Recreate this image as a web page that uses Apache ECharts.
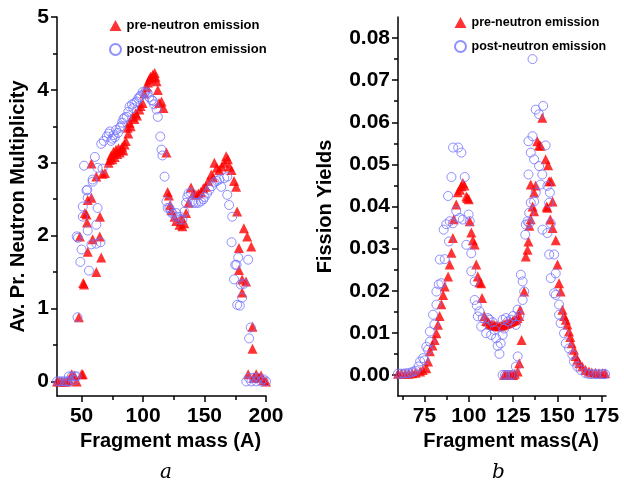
<!DOCTYPE html>
<html>
<head>
<meta charset="utf-8">
<script src="https://cdn.jsdelivr.net/npm/echarts@6/dist/echarts.min.js"></script>
<style>
  html, body { margin: 0; padding: 0; background: #fff; }
  #chart { width: 624px; height: 489px; }
</style>
</head>
<body>
<div id="chart"></div>
<script>
// panel a: average prompt neutron multiplicity vs fragment mass
const multPre = [
  [30,0],[32,0],[34,0],[36,0],[38,0],[40,0.02],[42,0.1],[44,0.08],[46,0],[47.8,0.88],[48.6,1.99],[50,0.1],[51,0.1],
  [51.3,1.35],[52,1.33],[52.7,2.31],[54,2.29],[54.4,2.18],[55,1.78],[55,2.49],[58,2.52],[58,2.99],[59,1.95],[62,1.5],
  [62,2.81],[64.8,1.99],[65,2.26],[66,1.7],[67,2.85],[69,2.86],[72,3.0],[73,3.04],[74,3.1],[75,3.05],[76,3.15],[77,3.08],
  [78,3.18],[79,3.12],[80,3.2],[81,3.14],[82,3.18],[83,3.22],[84,3.17],[85,3.25],[86,3.3],[87.5,3.48],[88,3.4],[89,3.55],
  [90,3.5],[91.5,3.63],[93,3.6],[94,3.68],[95,3.65],[97,3.73],[98,3.78],[99.6,3.82],[101,3.95],[103,4.04],[104,4.1],
  [105,4.14],[106,4.18],[107,4.16],[108,4.21],[109.5,4.23],[110,4.18],[111,4.12],[112,4.0],[113,3.82],[115,3.84],
  [116.6,3.75],[119,3.14],[120,2.6],[121,2.55],[122,2.42],[123,2.35],[125.5,2.26],[127,2.2],[129.6,2.15],[131,2.24],
  [132,2.13],[133.6,2.17],[135,2.31],[137,2.45],[139,2.66],[141,2.58],[143,2.56],[145,2.58],[147,2.6],[149,2.65],
  [151,2.67],[153,2.75],[155.5,2.84],[157,2.8],[158,3.0],[160,2.93],[162,2.9],[164,2.95],[166,3.0],[167.6,3.09],
  [169,3.05],[170,2.95],[172,2.9],[174,2.75],[175.7,2.67],[176.5,2.33],[178,1.83],[178,1.53],[180.6,1.4],[180.6,1.22],
  [182,2.1],[183.8,1.37],[184.7,1.99],[185.5,0.1],[188,1.85],[189,0.75],[189,0.45],[190,0.05],[192,0.1],[194,0.05],
  [196,0.08],[198,0.02],[200,0]
];
const multPost = [
  [30,0],[32,0],[34,0],[36,0],[38,0],[39.7,0.07],[40,0],[42,0.07],[44,0.02],[44.6,0.07],[46,0.07],[46.7,0.88],[46,1.99],
  [47,1.97],[49,1.64],[50,1.81],[51,2.26],[51,2.4],[52,2.96],[54,2.62],[54.6,2.63],[55,2.07],[55,2.52],[56,1.52],
  [58,1.88],[59,2.74],[59,2.77],[60.8,3.08],[62,1.89],[62,2.15],[63,2.38],[63,2.93],[65.4,1.91],[66,3.26],[67,2.92],
  [68,3.3],[70.5,3.36],[72,3.4],[73,3.43],[74,3.3],[75,3.33],[76,3.38],[77,3.35],[78,3.45],[79.6,3.41],[81,3.48],
  [82,3.5],[83,3.55],[84,3.6],[85,3.62],[86.7,3.63],[88,3.7],[89,3.77],[91,3.8],[92,3.75],[93,3.82],[94.8,3.84],
  [96,3.88],[97,3.9],[98,3.92],[99.6,3.97],[101,3.95],[102,3.98],[103.7,3.96],[105,3.9],[107,3.86],[108,3.85],[109,3.8],
  [111,3.73],[112,3.63],[114,3.36],[115,3.18],[115.8,3.1],[117.5,2.81],[119,2.47],[120,2.38],[121.5,2.38],[123,2.33],
  [124,2.3],[126.6,2.26],[127,2.31],[129.6,2.22],[130,2.26],[132,2.22],[133.6,2.33],[135,2.45],[136,2.53],[137,2.58],
  [139,2.59],[140,2.47],[141,2.45],[143,2.45],[145,2.45],[147,2.47],[149,2.5],[150,2.53],[152,2.58],[154,2.63],
  [156,2.68],[158,2.73],[160,2.75],[162,2.77],[163.6,2.67],[166,2.79],[168.5,2.81],[168.5,2.56],[170,2.42],[172,1.91],
  [172.5,2.26],[174,1.4],[175,1.6],[176,1.6],[176.6,1.05],[177.4,1.7],[178.7,1.04],[179.5,1.33],[180.6,1.15],[182,1.34],
  [184,0],[185.5,1.67],[186,0.05],[186.3,0.59],[187.6,0.74],[188,0],[190,0.05],[192,0],[194,0.05],[196,0],[198,0.03],[200,0]
];

// panel b: fission yields vs fragment mass
const yieldPre = [
  [60,0.0003],[62,0.0003],[64,0.0003],[66,0.0003],[68,0.0004],[70,0.0005],[72.5,0.0008],[74,0.0012],[76,0.0016],
  [77,0.0032],[78,0.0056],[79.5,0.007],[80.7,0.0083],[81.7,0.0099],[82.6,0.0119],[83.5,0.014],[84.5,0.0168],[85.5,0.019],
  [86.4,0.021],[88.3,0.0234],[89.2,0.0262],[90.2,0.029],[91,0.0325],[91.5,0.037],[92.9,0.0405],[93.8,0.0434],[95,0.044],
  [95.8,0.0448],[96.6,0.0456],[97.5,0.045],[98.6,0.0424],[99.2,0.042],[100,0.0417],[100.5,0.0365],[101.4,0.0338],
  [102.3,0.032],[103.3,0.031],[104.2,0.0262],[105.1,0.0234],[106,0.022],[107,0.0218],[107.5,0.0183],[108.8,0.014],
  [109.8,0.0128],[110.8,0.0127],[111.7,0.0121],[112.6,0.012],[113.6,0.0119],[114.5,0.0118],[115.4,0.0117],[116.3,0.0116],
  [117.3,0.0115],[118.2,0.0117],[119.1,0.0118],[120,0.012],[120.9,0.0121],[121.8,0.0123],[122.8,0.0124],[123.7,0.0126],
  [124.7,0.0128],[125.6,0.013],[126.6,0.0131],[127.5,0.0135],[128.5,0.014],[129,0.0155],
  [120,0],[121,0],[122,0],[123,0],[124,0],[125,0],[126,0.0003],[127.6,0.0008],[128.5,0.0028],[129.8,0.0083],
  [131.3,0.0198],[132.2,0.0281],[133.2,0.0297],[133.7,0.0317],[134.2,0.0354],[135,0.037],[135,0.0452],[136,0.04],
  [136.9,0.0433],[136.9,0.0389],[137.8,0.045],[138.7,0.0555],[139.7,0.0545],[140.6,0.0544],[141.5,0.0611],[143.4,0.0512],
  [144,0.04],[144.4,0.0397],[144.8,0.0498],[145.4,0.046],[146,0.0369],[146.5,0.046],[147.3,0.0412],
  [147.3,0.0349],[149.1,0.032],[150.1,0.0262],[151,0.0218],[151.9,0.0198],[152.9,0.0155],[153.8,0.014],[154.8,0.0131],
  [155.7,0.012],[156.6,0.0103],[157.3,0.009],[158.1,0.0075],[159.4,0.006],[160.3,0.0045],[161.3,0.0036],[162.5,0.0028],
  [164.1,0.002],[166,0.0012],[167.9,0.0008],[169.5,0.0006],[171.6,0.0005],[173.5,0.0004],[175.5,0.0004],[177,0.0004]
];
const yieldPost = [
  [60,0.0003],[61.5,0.0003],[63,0.0003],[64.5,0.0004],[66,0.0004],[67.5,0.0006],[68.8,0.0008],[70,0.001],[71.6,0.002],
  [72.5,0.0032],[74.2,0.004],[75,0.0035],[76,0.0067],[77,0.006],[78,0.0079],[78,0.0103],[79.8,0.0143],[80.5,0.012],
  [81.7,0.0167],[81.7,0.0198],[83,0.0215],[83.6,0.0274],[84.5,0.0218],[85.8,0.0345],[86.4,0.0275],[87.3,0.0358],
  [88.3,0.0425],[88.8,0.0317],[89.2,0.0365],[90.2,0.047],[91,0.036],[91.1,0.054],[92.9,0.0389],[94,0.054],[94.8,0.0373],
  [95.8,0.0528],[96.6,0.0369],[97.7,0.047],[98.6,0.0309],[99.9,0.0381],[100.5,0.0365],[101.4,0.0289],[101.4,0.0246],
  [103.3,0.0222],[103.3,0.0178],[104.5,0.0165],[105.1,0.0139],[106,0.0151],[107,0.0115],[107.9,0.0135],[109.8,0.0099],
  [110.8,0.0135],[111.7,0.0131],[112.6,0.0095],[113.5,0.0125],[114.5,0.0107],[115.4,0.0087],[116.3,0.0069],[117.3,0.005],
  [118,0.0075],[119.1,0.0095],[119.1,0.0131],[120,0.011],[120.9,0.0135],[122,0.0127],[123.8,0.0131],[125,0.014],
  [126.6,0.0119],[127.6,0.0155],[128.5,0.014],[129.4,0.0238],[130.4,0.0178],[130.4,0.0222],[131.3,0.0198],
  [119.1,0],[120.5,0],[122,0],[123.5,0],[124.8,0],[126.6,0.002],[127.6,0.0044],
  [131.9,0.0333],[132.2,0.0357],[133.2,0.0365],[133.7,0.0476],[133.7,0.0555],[134.1,0.036],[134.1,0.0385],[135,0.0409],
  [135,0.0528],[136,0.075],[136,0.0567],[136.9,0.0512],[136.9,0.0412],[137.8,0.063],[137.8,0.0433],[139.7,0.0619],
  [139.7,0.0496],[140.6,0.0452],[141.5,0.0476],[141.6,0.0345],[142,0.0639],[143.4,0.0545],[144.4,0.0449],[144.4,0.0337],
  [145.4,0.0409],[145.4,0.0286],[145.8,0.0433],[146.3,0.036],[146.3,0.023],[148.2,0.0286],[148.2,0.0194],[149.1,0.019],
  [149.1,0.0241],[151,0.0167],[151,0.0143],[151.9,0.0123],[153.8,0.0099],[154.8,0.0075],[156.6,0.0063],[158.5,0.0048],
  [159.4,0.0032],[161.3,0.002],[163.2,0.0012],[166,0.0004],[168,0.0002],[170,0.0002],[172,0.0002],[174,0.0002],
  [176,0.0002],[177,0.0002]
];

// ticks
const multXTicks = [50, 100, 150, 200];
const multXMinor = [75, 125, 175];
const multYTicks = [0, 1, 2, 3, 4, 5];
const multYMinor = [0.5, 1.5, 2.5, 3.5, 4.5];
const yieldXTicks = [75, 100, 125, 150, 175];
const yieldXMinor = [62.5, 87.5, 112.5, 137.5, 162.5];
const yieldYTicks = [0, 0.01, 0.02, 0.03, 0.04, 0.05, 0.06, 0.07, 0.08];
const yieldYMinor = [0.005, 0.015, 0.025, 0.035, 0.045, 0.055, 0.065, 0.075];

const PRE = 'pre-neutron emission';
const POST = 'post-neutron emission';
const FONT = '"Liberation Sans", Arial, sans-serif';

const chart = echarts.init(document.getElementById('chart'));

const lineStyle = { color: '#000', width: 1.5 };
const labelStyle = { color: '#000', fontFamily: FONT, fontWeight: 'bold', fontSize: 21 };
const nameStyle = { color: '#000', fontFamily: FONT, fontWeight: 'bold', fontSize: 20 };

function mainAxis(gridIndex, min, max, ticks, fmt, extra) {
  return Object.assign({
    type: 'value', gridIndex, min, max,
    splitLine: { show: false },
    axisLine: { show: true, onZero: false, lineStyle },
    axisTick: { show: true, inside: false, length: 6, lineStyle, customValues: ticks },
    axisLabel: Object.assign({ margin: 8, customValues: ticks, formatter: fmt }, labelStyle),
    nameTextStyle: nameStyle,
    nameLocation: 'middle'
  }, extra);
}
// second axis on the same grid that only carries the short minor ticks
function minorAxis(gridIndex, min, max, ticks, position) {
  return {
    type: 'value', gridIndex, min, max, position,
    splitLine: { show: false },
    axisLine: { show: true, onZero: false, lineStyle: { color: 'rgba(0,0,0,0)', width: 0 } },
    axisLabel: { show: false, customValues: ticks },
    axisTick: { show: true, inside: false, length: 4, lineStyle, customValues: ticks }
  };
}

const triStyle = { color: '#ff0000' };
const circStyle = { color: 'rgba(0,0,0,0)', borderColor: '#7373ff', borderWidth: 1 };

chart.setOption({
  animation: false,
  backgroundColor: '#fff',
  grid: [
    { left: 57, top: 17, width: 209, height: 379 },
    { left: 398, top: 17, width: 208, height: 379 }
  ],
  xAxis: [
    mainAxis(0, 30, 200, multXTicks, v => String(v), {
      name: 'Fragment mass (A)', nameGap: 31, position: 'bottom',
      nameTextStyle: Object.assign({ padding: [0, 0, 0, 18] }, nameStyle),
      axisLabel: Object.assign({ margin: 10, customValues: multXTicks }, labelStyle)
    }),
    minorAxis(0, 30, 200, multXMinor, 'bottom'),
    mainAxis(1, 60, 177.5, yieldXTicks, v => String(v), {
      name: 'Fragment mass(A)', nameGap: 31, position: 'bottom',
      nameTextStyle: Object.assign({ padding: [0, 0, 0, 18] }, nameStyle),
      axisLabel: Object.assign({ margin: 10, customValues: yieldXTicks }, labelStyle)
    }),
    minorAxis(1, 60, 177.5, yieldXMinor, 'bottom')
  ],
  yAxis: [
    mainAxis(0, -0.2, 5, multYTicks, v => String(v), {
      name: 'Av. Pr. Neutron Multiplicity', nameGap: 29, position: 'left'
    }),
    minorAxis(0, -0.2, 5, multYMinor, 'left'),
    mainAxis(1, -0.005, 0.085, yieldYTicks, v => v.toFixed(2), {
      name: 'Fission Yields', nameGap: 63, position: 'left'
    }),
    minorAxis(1, -0.005, 0.085, yieldYMinor, 'left')
  ],
  legend: [
    {
      left: 104, top: 14, orient: 'vertical', itemGap: 11, itemWidth: 12, itemHeight: 11,
      data: [PRE, POST],
      textStyle: { color: '#000', fontFamily: FONT, fontWeight: 'bold', fontSize: 13 }
    },
    {
      left: 449, top: 11, orient: 'vertical', itemGap: 11, itemWidth: 12, itemHeight: 11,
      data: [PRE, POST],
      textStyle: { color: '#000', fontFamily: FONT, fontWeight: 'bold', fontSize: 12.5 }
    }
  ],
  series: [
    { name: PRE, type: 'scatter', xAxisIndex: 0, yAxisIndex: 0, symbol: 'triangle', symbolSize: 10,
      itemStyle: triStyle, data: multPre },
    { name: POST, type: 'scatter', xAxisIndex: 0, yAxisIndex: 0, symbol: 'circle', symbolSize: 9,
      itemStyle: circStyle, data: multPost },
    { name: PRE, type: 'scatter', xAxisIndex: 2, yAxisIndex: 2, symbol: 'triangle', symbolSize: 10,
      itemStyle: triStyle, data: yieldPre },
    { name: POST, type: 'scatter', xAxisIndex: 2, yAxisIndex: 2, symbol: 'circle', symbolSize: 9,
      itemStyle: circStyle, data: yieldPost }
  ],
  graphic: [
    { type: 'text', left: 160, top: 463, style: { text: 'a', fill: '#000', font: 'italic 20px "DejaVu Serif", "Liberation Serif", serif' } },
    { type: 'text', left: 492, top: 463, style: { text: 'b', fill: '#000', font: 'italic 20px "DejaVu Serif", "Liberation Serif", serif' } }
  ]
});
</script>
</body>
</html>
